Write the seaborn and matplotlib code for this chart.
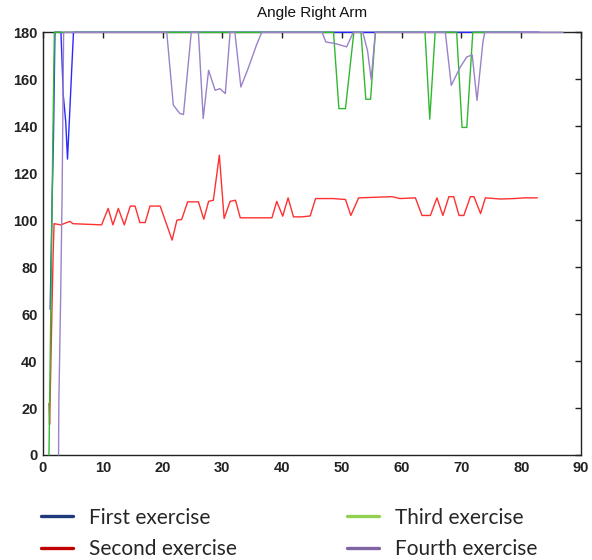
import matplotlib
matplotlib.use("Agg")
import matplotlib.pyplot as plt
from matplotlib.lines import Line2D
import seaborn as sns
import pandas as pd

# ---- data ----
first_x = [1.2, 1.5, 1.75, 2.0, 3.0, 3.4, 3.8, 4.1, 4.4, 4.6, 4.8, 5.1, 83.0]
first_y = [62, 105, 135, 180, 180, 153, 142, 126, 142, 153, 164, 180, 180]

second_x = [1.0, 1.1, 1.3, 1.5, 1.7, 1.85, 3.0, 4.5, 5.0, 9.8, 10.9, 11.7, 12.6, 13.6,
            14.6, 15.4, 16.2, 17.1, 17.9, 19.6, 21.6, 22.4, 23.2, 24.2, 26.0, 26.9,
            27.7, 28.5, 29.5, 30.3, 31.3, 32.2, 33.0, 38.3, 39.1, 40.1, 41.0, 41.9,
            43.3, 44.7, 45.6, 48.5, 50.6, 51.5, 52.8, 58.4, 59.7, 62.3, 63.4, 64.8,
            65.9, 66.9, 67.9, 68.7, 69.6, 70.4, 71.5, 72.1, 73.2, 74.0, 76.5, 78.8,
            80.5, 82.7]
second_y = [22, 13, 37, 62, 86, 98.5, 98, 99.5, 98.5, 98, 105, 98, 105, 98,
            106, 106, 99, 99, 106, 106, 91.5, 100, 100.3, 107.8, 107.8, 100.4,
            108, 108.5, 127.7, 100.7, 108, 108.5, 101, 101, 108, 101.7, 109.5, 101.4,
            101.4, 101.8, 109.2, 109.2, 108.8, 102, 109.5, 110, 109.2, 109.5, 102, 102,
            109.5, 102, 110, 110, 102, 102, 110, 110, 102.8, 109.5, 109, 109.2,
            109.5, 109.5]

third_x = [1.0, 1.3, 1.6, 1.9, 48.6, 49.5, 50.6, 52.0, 53.2, 54.0, 54.8, 55.6,
           63.9, 64.7, 65.6, 69.2, 70.1, 70.9, 71.9, 80.0]
third_y = [0, 60, 125, 180, 180, 147.5, 147.5, 180, 180, 151.5, 151.5, 180,
           180, 143, 180, 180, 139.5, 139.5, 180, 180]

fourth_x = [2.6, 2.65, 2.95, 3.2, 3.45, 20.7, 21.8, 22.9, 23.5, 24.8, 26.0, 26.8,
            27.7, 28.8, 29.6, 30.5, 31.3, 32.1, 33.1, 34.3, 35.7, 36.6, 46.7, 47.3,
            48.9, 50.8, 51.9, 53.5, 54.3, 54.9, 55.6, 67.3, 68.3, 69.8, 70.9, 71.8,
            72.6, 73.6, 73.9, 87.0]
fourth_y = [0, 22, 67, 112, 180, 180, 149, 145.4, 145, 180, 180, 143.3,
            163.8, 155.3, 156, 153.9, 180, 180, 156.7, 164.5, 174.5, 180, 180, 175.9,
            175.2, 173.8, 180, 180, 172, 160, 180, 180, 157.4, 165.2, 169.5, 170.4,
            151, 176, 180, 180]

labels = ["First exercise", "Second exercise", "Third exercise", "Fourth exercise"]
line_colors = ["#2a2aff", "#ff3030", "#30b830", "#9a82c8"]
legend_colors = ["#1f3a7a", "#c00000", "#92d050", "#8064a2"]
x_ticks = list(range(0, 91, 10))
y_ticks = list(range(0, 181, 20))

series = [(first_x, first_y), (second_x, second_y), (third_x, third_y), (fourth_x, fourth_y)]
frames = []
for lab, (xs, ys) in zip(labels, series):
    frames.append(pd.DataFrame({"x": xs, "y": ys, "series": lab}))
df = pd.concat(frames, ignore_index=True)

sns.set_style("white")
plt.rcParams["font.family"] = ["Liberation Sans", "DejaVu Sans"]

fig = plt.figure(figsize=(5.92, 5.60), dpi=100)
ax = fig.add_axes([43 / 592, 1 - 455 / 560, (581 - 43) / 592, (455 - 32.3) / 560])

for i, (lab, col) in enumerate(zip(labels, line_colors)):
    sub = df[df["series"] == lab]
    sns.lineplot(data=sub, x="x", y="y", ax=ax, color=col, linewidth=1.0,
                 sort=False, estimator=None, legend=False)
for i, line in enumerate(ax.get_lines()):
    line.set_clip_on(False)
    line.set_zorder(3 + i * 0.1)

ax.set_xlim(0, 90)
ax.set_ylim(0, 180)
ax.set_xticks(x_ticks)
ax.set_yticks(y_ticks)
ax.set_xlabel("")
ax.set_ylabel("")
ax.tick_params(direction="in", length=4, width=1, top=True, right=True,
               labelsize=10.5, colors="#222222", pad=4)
for lbl in ax.get_xticklabels() + ax.get_yticklabels():
    lbl.set_fontweight("bold")
for sp in ax.spines.values():
    sp.set_visible(True)
    sp.set_color("#222222")
    sp.set_linewidth(1.0)
ax.set_title("Angle Right Arm", fontsize=11, color="#111111", pad=11)

handles = [Line2D([0], [0], color=c, linewidth=2.4) for c in legend_colors]
fig.legend(handles, labels, ncol=2, loc="upper left", bbox_to_anchor=(22 / 592, 1 - 489 / 560),
           frameon=False, prop={"family": ["Lato", "DejaVu Sans"], "size": 15},
           handlelength=1.55, handletextpad=0.75, columnspacing=5.3, labelspacing=0.56)

fig.savefig("out.png", dpi=100)
